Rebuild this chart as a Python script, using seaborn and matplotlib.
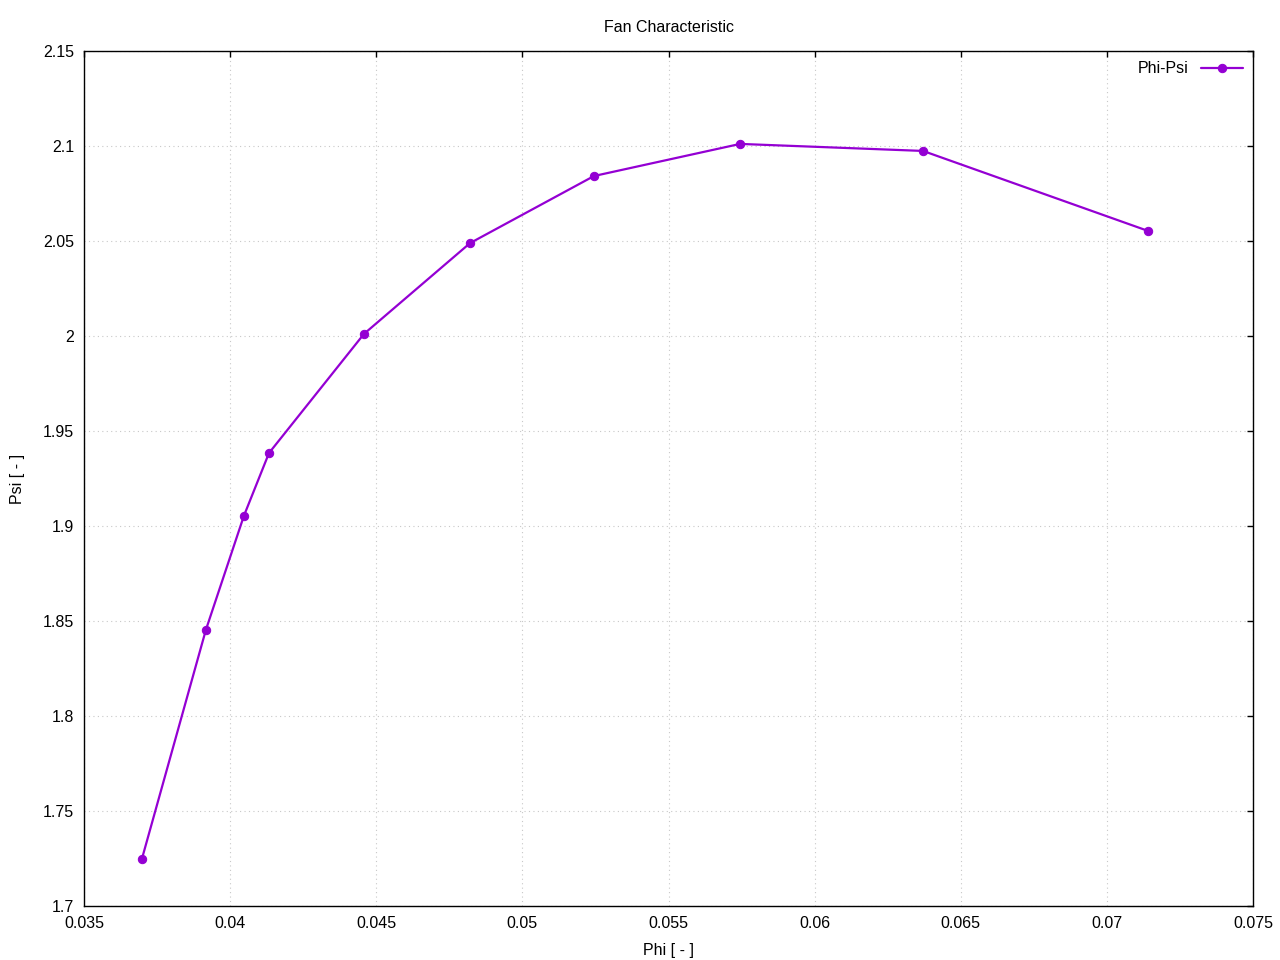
import matplotlib
matplotlib.use("Agg")
import matplotlib.pyplot as plt
import pandas as pd
import seaborn as sns

PHI = [0.03698, 0.03917, 0.04047, 0.04133, 0.04458, 0.04821, 0.05245, 0.05745, 0.06371, 0.07141]
PSI = [1.7247, 1.8453, 1.9053, 1.9384, 2.0011, 2.0489, 2.0842, 2.1011, 2.0974, 2.0553]
X_TICKS = [0.035, 0.04, 0.045, 0.05, 0.055, 0.06, 0.065, 0.07, 0.075]
X_LABELS = ["0.035", "0.04", "0.045", "0.05", "0.055", "0.06", "0.065", "0.07", "0.075"]
Y_TICKS = [1.7, 1.75, 1.8, 1.85, 1.9, 1.95, 2.0, 2.05, 2.1, 2.15]
Y_LABELS = ["1.7", "1.75", "1.8", "1.85", "1.9", "1.95", "2", "2.05", "2.1", "2.15"]
COLOR = "#9400d3"


def main() -> None:
    sns.set_theme(style="white")
    plt.rcParams["font.family"] = ["Liberation Sans", "DejaVu Sans"]

    df = pd.DataFrame({"phi": PHI, "psi": PSI})

    fig = plt.figure(figsize=(12.8, 9.6), dpi=100)
    ax = fig.add_axes([84 / 1280, 54 / 960, (1253 - 84) / 1280, (906 - 51) / 960])

    sns.lineplot(
        data=df, x="phi", y="psi", ax=ax, color=COLOR, linewidth=1.6,
        marker="o", markersize=6, markeredgecolor=COLOR, label="Phi-Psi",
        sort=False,
    )

    ax.set_xlim(0.035, 0.075)
    ax.set_ylim(1.7, 2.15)
    ax.set_xticks(X_TICKS, X_LABELS)
    ax.set_yticks(Y_TICKS, Y_LABELS)
    ax.tick_params(direction="in", length=4.5, width=1, top=True, right=True,
                   labelsize=11.5, colors="black", pad=7)
    ax.grid(True, color="#c8c8c8", linestyle=(0, (1, 3)), linewidth=0.8)
    for spine in ax.spines.values():
        spine.set_color("black")
        spine.set_linewidth(1)

    ax.set_xlabel("Phi [ - ]", fontsize=11.5, color="black", labelpad=9)
    ax.set_ylabel("Psi [ - ]", fontsize=11.5, color="black", labelpad=13)
    ax.set_title("Fan Characteristic", fontsize=11.5, color="black", pad=14)

    leg = ax.legend(loc="upper right", frameon=False, fontsize=11.5,
                    markerfirst=False, handlelength=2.6, borderaxespad=0.35,
                    borderpad=0.3)
    for text in leg.get_texts():
        text.set_color("black")

    fig.savefig("out.png", dpi=100)
    plt.close(fig)


if __name__ == "__main__":
    main()
